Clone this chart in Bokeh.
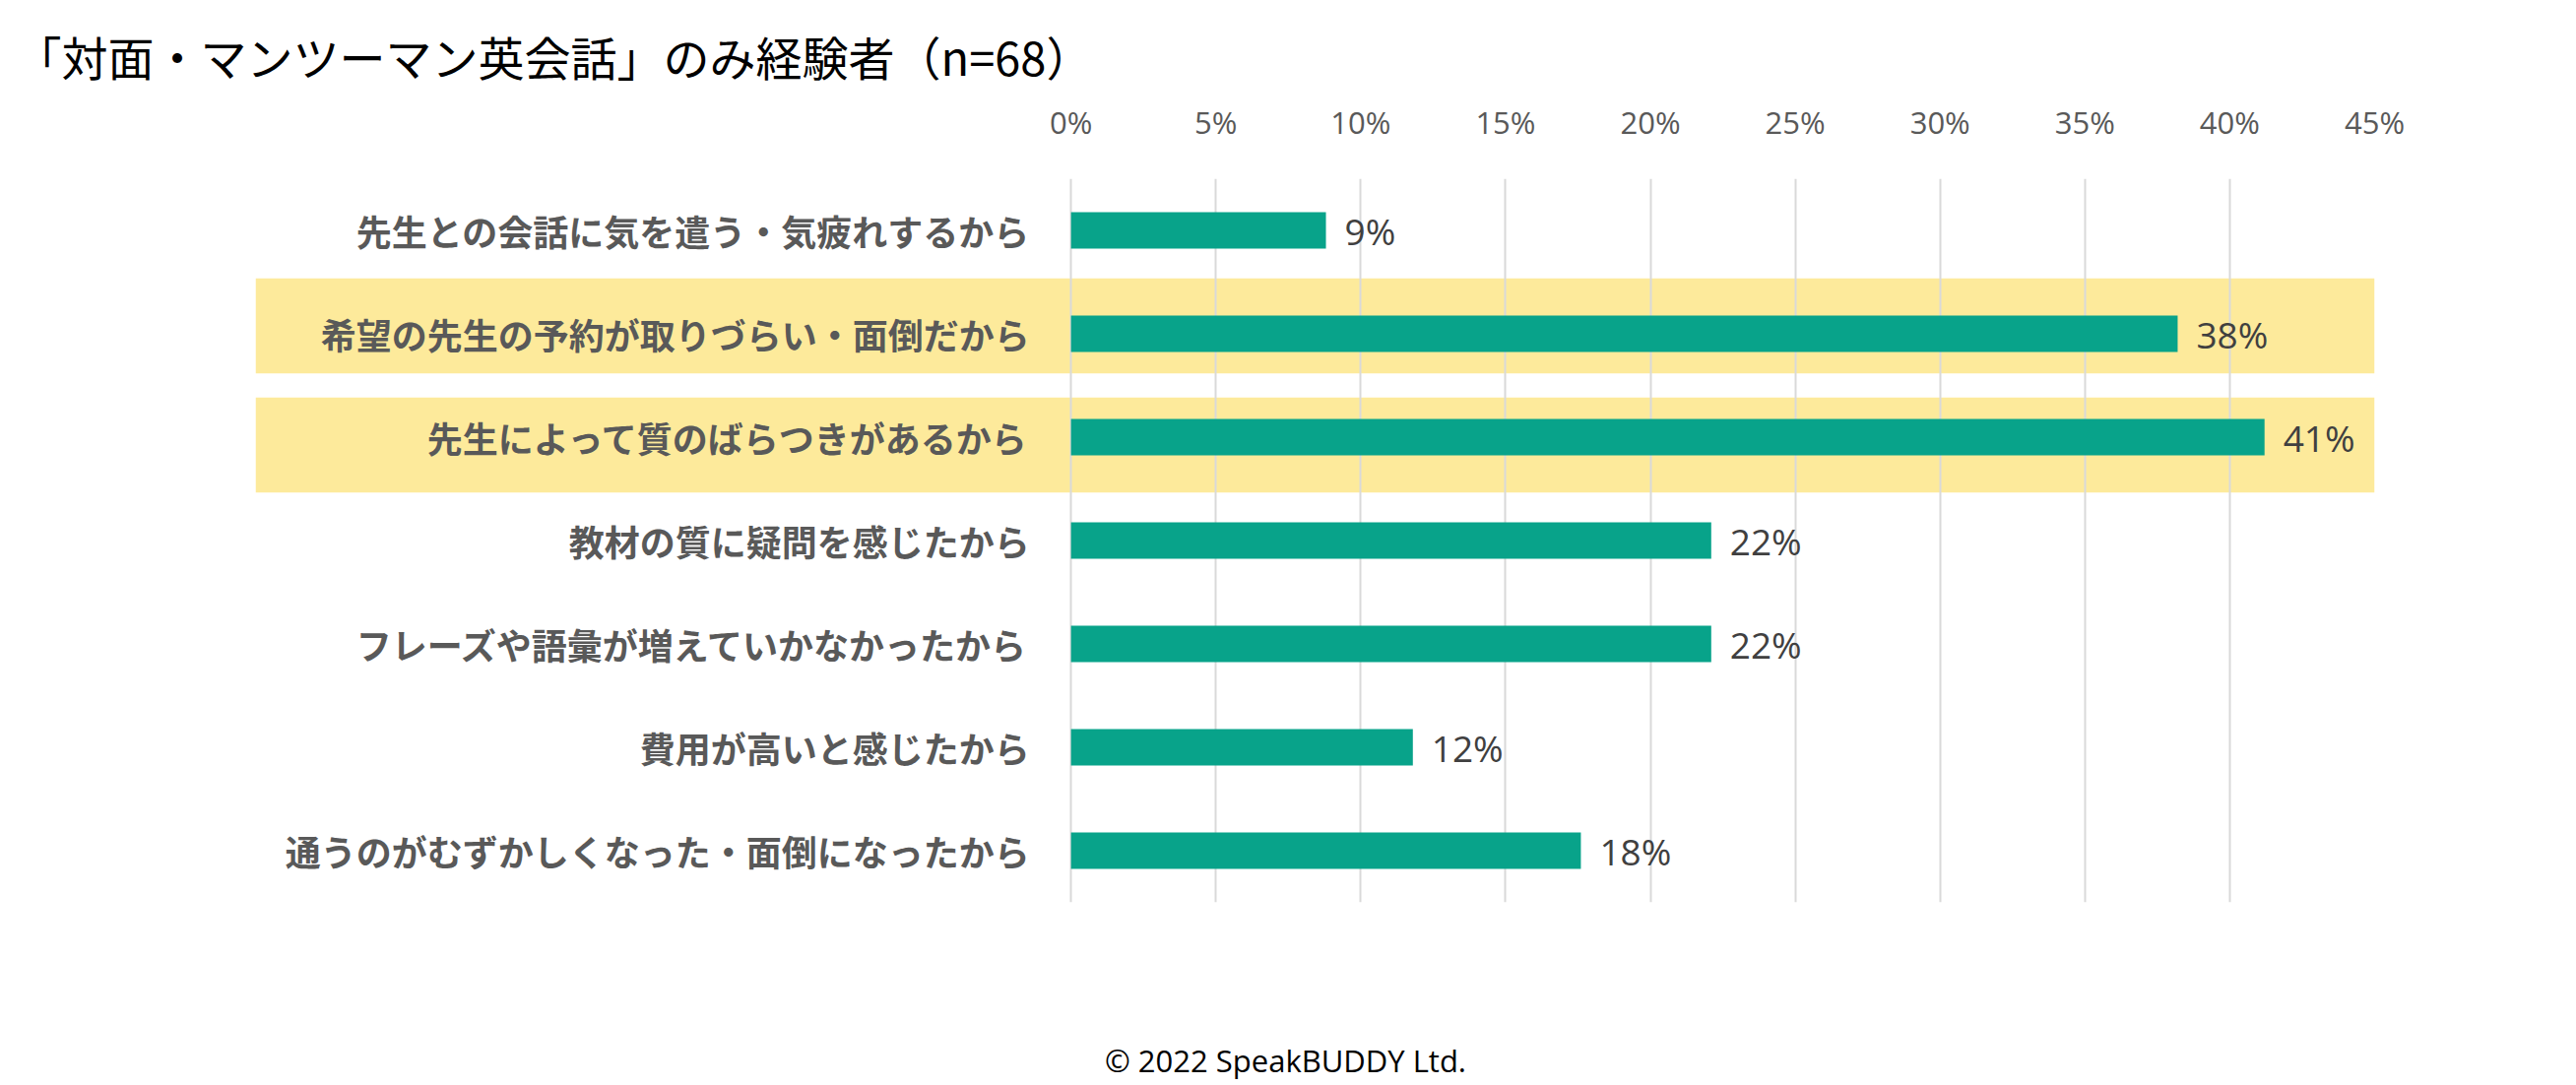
from bokeh.plotting import figure
from bokeh.models import ColumnDataSource, Range1d, FixedTicker
from bokeh.layouts import column
from bokeh.core.properties import value
from bokeh.embed import file_html
from bokeh.resources import INLINE

# ---------------- data ----------------
title_text = "「対面・マンツーマン英会話」のみ経験者（n=68）"
footer_text = "© 2022 SpeakBUDDY Ltd."
categories = [
    "先生との会話に気を遣う・気疲れするから",
    "希望の先生の予約が取りづらい・面倒だから",
    "先生によって質のばらつきがあるから",
    "教材の質に疑問を感じたから",
    "フレーズや語彙が増えていかなかったから",
    "費用が高いと感じたから",
    "通うのがむずかしくなった・面倒になったから",
]
values = [8.8, 38.2, 41.2, 22.1, 22.1, 11.8, 17.6]
value_labels = ["9%", "38%", "41%", "22%", "22%", "12%", "18%"]
highlight = [False, True, True, False, False, False, False]
tick_values = [0, 5, 10, 15, 20, 25, 30, 35, 40, 45]
tick_labels = ["0%", "5%", "10%", "15%", "20%", "25%", "30%", "35%", "40%", "45%"]

# ---------------- style ----------------
BAR = "#08A38A"
BAND = "#FDEA9B"
GRID = "#D9D9D9"
LABEL = "#595959"
VALUE = "#404040"
JP = "Noto Sans CJK JP"

W = 2610
H_MAIN, H_FOOT = 1000, 98
BL, BR, BT = 259, W - 2411, 181
BB = H_MAIN - 916
X_START = -28.15
idx = list(range(len(categories)))

src = ColumnDataSource(dict(y=idx, cat=categories, val=values, lab=value_labels))
band_rows = [i for i in idx if highlight[i]]
band_shift = [-0.076 if k == 0 else 0.076 for k in range(len(band_rows))]
band_src = ColumnDataSource(dict(y=[band_rows[k] + band_shift[k] for k in range(len(band_rows))]))

p = figure(width=W, height=H_MAIN, output_backend="svg", toolbar_location=None,
           x_range=Range1d(X_START, 45), y_range=Range1d(len(categories) - 0.5, -0.5),
           x_axis_location="above", y_axis_location=None,
           min_border_left=BL, min_border_right=BR, min_border_top=BT, min_border_bottom=BB,
           title=title_text)
p.outline_line_color = None
p.background_fill_color = "white"
p.border_fill_color = "white"

# title
p.title.text_font = JP
p.title.text_font_size = "47px"
p.title.text_font_style = "normal"
p.title.text_color = "#000000"
p.title.align = "left"
p.title.offset = -244
p.title.standoff = 18

bands = p.hbar(y="y", left=X_START, right=45, height=0.92, source=band_src,
               fill_color=BAND, line_color=None)
bands.level = "image"

p.xaxis.ticker = FixedTicker(ticks=tick_values)
p.xaxis.major_label_overrides = {t_: l for t_, l in zip(tick_values, tick_labels)}
p.xaxis.axis_line_color = None
p.xaxis.major_tick_line_color = None
p.xaxis.minor_tick_line_color = None
p.xaxis.major_label_text_font = "Open Sans"
p.xaxis.major_label_text_font_size = "31px"
p.xaxis.major_label_text_color = LABEL
p.xaxis.major_label_standoff = 31
p.xgrid.ticker = FixedTicker(ticks=tick_values)
p.xgrid.grid_line_color = GRID
p.xgrid.grid_line_width = 2
p.ygrid.grid_line_color = None

p.hbar(y="y", left=0, right="val", height=0.352, source=src, fill_color=BAR, line_color=None)

p.text(x="val", y="y", text="lab", source=src, x_offset=19,
       text_align="left", text_baseline="middle",
       text_font=value("Open Sans"), text_font_size="37px", text_color=VALUE)

p.text(x=0, y="y", text="cat", source=src, x_offset=-42,
       text_align="right", text_baseline="middle",
       text_font=value(JP), text_font_style="bold", text_font_size="36px", text_color=LABEL)

# ---------------- footer (frame aligned with the main plot; x in page pixels) ----------------
f = figure(width=W, height=H_FOOT, output_backend="svg", toolbar_location=None,
           x_range=Range1d(BL, W - BR), y_range=Range1d(0, H_FOOT),
           x_axis_location=None, y_axis_location=None,
           min_border_left=BL, min_border_right=BR, min_border_top=0, min_border_bottom=0)
f.outline_line_color = None
f.xgrid.grid_line_color = None
f.ygrid.grid_line_color = None
f.text(x=[1305], y=[H_FOOT - (1076 - H_MAIN)], text=[footer_text],
       text_align="center", text_baseline="middle",
       text_font=value("Open Sans"), text_font_size="31px", text_color="#000000")

layout = column(p, f, spacing=0)
open("out.html", "w").write(file_html(layout, INLINE))
